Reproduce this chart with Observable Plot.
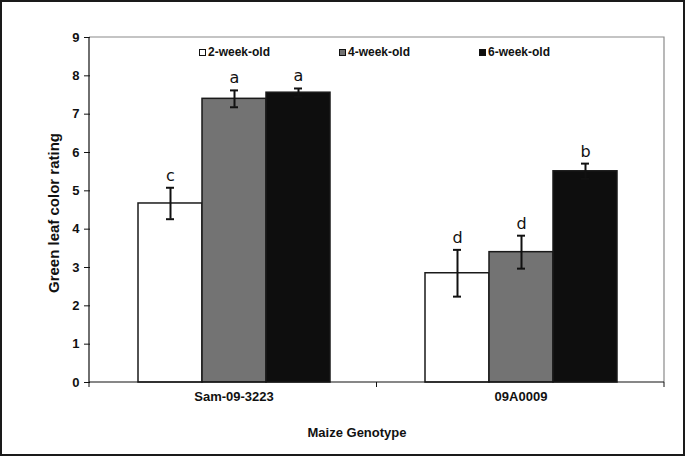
<!DOCTYPE html>
<html><head><meta charset="utf-8">
<script src="https://cdn.jsdelivr.net/npm/d3@7"></script>
<script src="https://cdn.jsdelivr.net/npm/@observablehq/plot@0.6"></script>
<style>
body{margin:0;background:#fff;}
#wrap{position:relative;width:685px;height:456px;overflow:hidden;font-family:"Liberation Sans",Arial,sans-serif;background:#fff;}
#chart{position:absolute;left:0;top:0;}
#border{position:absolute;left:0;top:0;width:685px;height:456px;border:2px solid #1a1a1a;box-sizing:border-box;pointer-events:none;}
.lab{position:absolute;font-weight:bold;color:#111;white-space:nowrap;line-height:16px;}
#xlab{left:357px;top:425px;transform:translateX(-50%);font-size:13px;}
#ylab{left:53.5px;top:213px;transform:translate(-50%,-50%) rotate(-90deg);font-size:15px;}
#legend{position:absolute;left:199px;top:45px;display:flex;font-weight:bold;font-size:12px;color:#111;line-height:15px;}
.item{width:140px;display:flex;align-items:center;}
.sw{width:7px;height:7px;border:1.5px solid #111;box-sizing:border-box;margin-right:2px;}
</style></head><body>
<div id="wrap"><div id="chart"></div>
<div class="lab" id="xlab">Maize Genotype</div>
<div class="lab" id="ylab">Green leaf color rating</div>
<div id="legend"></div>
<div id="border"></div></div>
<script>
const genotypes = ["Sam-09-3223", "09A0009"];
const ages = ["2-week-old", "4-week-old", "6-week-old"];
const means = [[4.67, 7.40, 7.56], [2.85, 3.40, 5.51]];
const errors = [[0.41, 0.22, 0.11], [0.61, 0.43, 0.20]];
const letters = [["c", "a", "a"], ["d", "d", "b"]];
const fills = ["#ffffff", "#737373", "#0e0e0e"];
const yTicks = [0, 1, 2, 3, 4, 5, 6, 7, 8, 9];

const data = [];
genotypes.forEach((g, i) => ages.forEach((a, j) => data.push({
  genotype: g, age: a, mean: means[i][j],
  lo: means[i][j] - errors[i][j], hi: means[i][j] + errors[i][j], letter: letters[i][j]
})));

const W = 685, H = 456, ml = 89, mr = 21, mt = 37, mb = 74;
const plot = Plot.plot({
  width: W, height: H, marginLeft: ml, marginRight: mr, marginTop: mt, marginBottom: mb,
  style: {fontFamily: "Liberation Sans, Arial, sans-serif", fontSize: "13px", fontWeight: "bold", color: "#111", background: "transparent", overflow: "visible"},
  fx: {domain: genotypes, padding: 0, label: null, axis: "bottom", tickSize: 0, tickPadding: 9},
  x: {domain: ages, paddingInner: 0, paddingOuter: 0.735, axis: null},
  y: {domain: [0, 9], ticks: yTicks, tickSize: 6, tickPadding: 5, label: null, tickFormat: d => String(d)},
  color: {domain: ages, range: fills},
  marks: [
    Plot.barY(data, {fx: "genotype", x: "age", y: "mean", fill: "age", stroke: "#1a1a1a", strokeWidth: 1.5}),
    Plot.ruleX(data, {fx: "genotype", x: "age", y1: "lo", y2: "hi", stroke: "#111", strokeWidth: 2}),
    Plot.tickY(data, {fx: "genotype", x: "age", y: "hi", insetLeft: 28, insetRight: 28, stroke: "#111", strokeWidth: 2}),
    Plot.tickY(data, {fx: "genotype", x: "age", y: "lo", insetLeft: 28, insetRight: 28, stroke: "#111", strokeWidth: 2}),
    Plot.text(data, {fx: "genotype", x: "age", y: "hi", text: "letter", dy: -7, lineAnchor: "bottom", fontFamily: "DejaVu Sans, sans-serif", fontSize: 16, fontWeight: "normal", fill: "#111"})
  ]
});
document.getElementById("chart").appendChild(plot);

// frame and category-boundary ticks
const svg = d3.select(plot);
const x0 = ml, x1 = W - mr, y0 = H - mb, y1 = mt;
const g = svg.append("g").attr("fill", "none");
g.append("path").attr("d", `M${x0},${y1}H${x1}V${y0}`).attr("stroke", "#8a8a8a").attr("stroke-width", 1.2);
g.append("path").attr("d", `M${x0},${y1}V${y0}H${x1}`).attr("stroke", "#111").attr("stroke-width", 1.2);
for (let i = 0; i <= genotypes.length; i++) {
  const xx = x0 + i * (x1 - x0) / genotypes.length;
  g.append("path").attr("d", `M${xx},${y0}V${y0 + 5}`).attr("stroke", "#111").attr("stroke-width", 1);
}

// legend
const leg = d3.select("#legend");
ages.forEach((a, i) => {
  const it = leg.append("div").attr("class", "item");
  it.append("div").attr("class", "sw").style("background", fills[i]);
  it.append("span").text(a);
});
</script>
</body></html>
